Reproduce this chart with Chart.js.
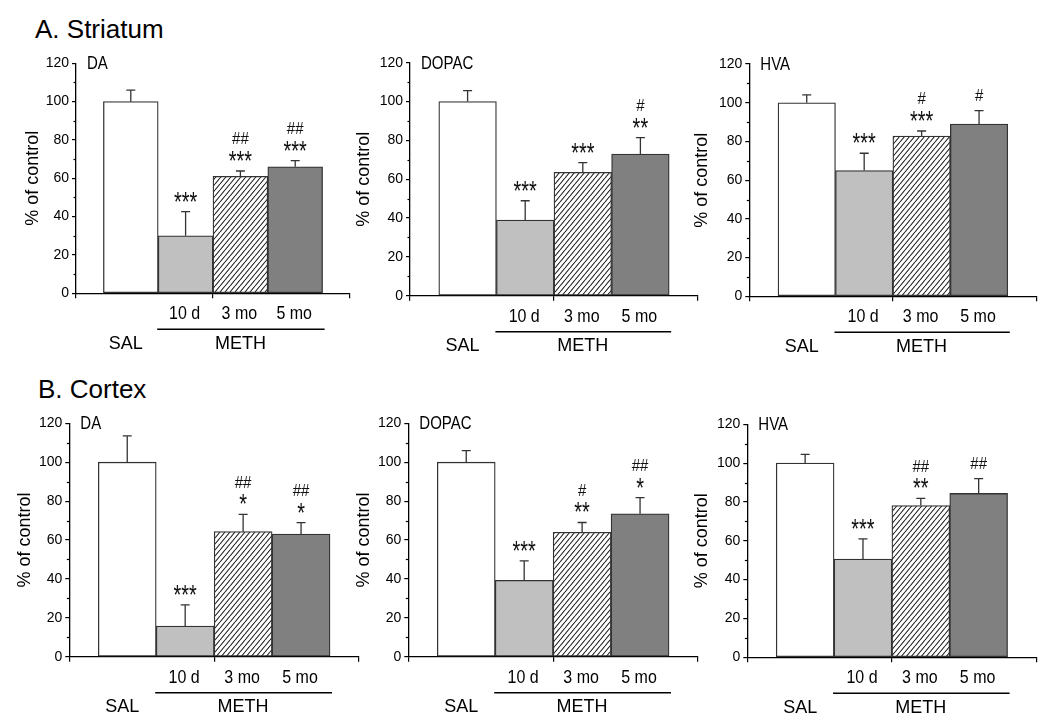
<!DOCTYPE html>
<html><head><meta charset="utf-8">
<script src="https://cdn.jsdelivr.net/npm/chart.js@4.4.0/dist/chart.umd.min.js"></script>
<style>
body{margin:0;background:#fff;width:1050px;height:725px;position:relative;overflow:hidden;font-family:'Liberation Sans',Arial,Helvetica,sans-serif;}
canvas{position:absolute;}
.rowtitle{position:absolute;font-size:26px;color:#000;line-height:26px;white-space:nowrap;}
</style></head><body>
<div class="rowtitle" style="left:35px;top:16px">A. Striatum</div>
<div class="rowtitle" style="left:38px;top:376px">B. Cortex</div>
<script>
// ---------- data ----------
const groupLabels = ['SAL', '10 d', '3 mo', '5 mo'];
const methLabel = 'METH';
const yTickValues = [0, 20, 40, 60, 80, 100, 120];

const striatumDA = [100, 30, 61, 66];
const striatumDA_sem = [6, 12.6, 2.8, 3.2];
const striatumDA_sig = [[], ['***'], ['***', '##'], ['***', '##']];

const striatumDOPAC = [100, 39, 63.5, 73];
const striatumDOPAC_sem = [5.6, 9.9, 5, 8.4];
const striatumDOPAC_sig = [[], ['***'], ['***'], ['**', '#']];

const striatumHVA = [100, 65, 82.8, 89];
const striatumHVA_sem = [4, 8.9, 2.6, 6.9];
const striatumHVA_sig = [[], ['***'], ['***', '#'], ['#']];

const cortexDA = [100, 15.8, 64.3, 63.1];
const cortexDA_sem = [13.5, 10.8, 8.9, 5.8];
const cortexDA_sig = [[], ['***'], ['*', '##'], ['*', '##']];

const cortexDOPAC = [100, 39.3, 64, 73.5];
const cortexDOPAC_sem = [6, 10, 5, 8.3];
const cortexDOPAC_sig = [[], ['***'], ['**', '#'], ['*', '##']];

const cortexHVA = [100, 50.6, 78.2, 84.4];
const cortexHVA_sem = [4.5, 10.4, 3.6, 7.6];
const cortexHVA_sig = [[], ['***'], ['**', '##'], ['##']];

// ---------- panels (data refs) ----------
const panels = [
  {name: 'DA',    values: striatumDA,    sem: striatumDA_sem,    sig: striatumDA_sig},
  {name: 'DOPAC', values: striatumDOPAC, sem: striatumDOPAC_sem, sig: striatumDOPAC_sig},
  {name: 'HVA',   values: striatumHVA,   sem: striatumHVA_sem,   sig: striatumHVA_sig},
  {name: 'DA',    values: cortexDA,      sem: cortexDA_sem,      sig: cortexDA_sig},
  {name: 'DOPAC', values: cortexDOPAC,   sem: cortexDOPAC_sem,   sig: cortexDOPAC_sig},
  {name: 'HVA',   values: cortexHVA,     sem: cortexHVA_sem,     sig: cortexHVA_sig}
];

// ---------- layout (page pixels) ----------
const layoutBoxes = [
  {canvas: [0, 40, 362, 320],   area: [76, 63.3, 350, 293.3],      tOff: 42.7},
  {canvas: [345, 40, 360, 320], area: [410, 62.7, 698, 295.7],     tOff: 46},
  {canvas: [680, 40, 370, 320], area: [749.3, 64, 1036.5, 296.3],  tOff: 46.8},
  {canvas: [0, 400, 362, 320],  area: [69.3, 423.3, 359, 656.7],   tOff: 44.3},
  {canvas: [345, 400, 360, 320],area: [408.3, 423.3, 698, 656.7],  tOff: 44.3},
  {canvas: [680, 400, 370, 320],area: [747.3, 424.3, 1036.5, 657.3], tOff: 44.8}
];

const FONT = "'Liberation Sans', Arial, Helvetica, sans-serif";
Chart.defaults.font.family = FONT;
Chart.defaults.color = '#000';

function hatchPattern() {
  const w = 5, h = 6;
  const c = document.createElement('canvas');
  c.width = w; c.height = h;
  const g = c.getContext('2d');
  g.fillStyle = '#fff'; g.fillRect(0, 0, w, h);
  g.strokeStyle = '#1a1a1a'; g.lineWidth = 1.05;
  g.beginPath();
  g.moveTo(0, h); g.lineTo(w, 0);
  g.moveTo(-w, h); g.lineTo(0, 0);
  g.moveTo(w, h); g.lineTo(2 * w, 0);
  g.stroke();
  return g.createPattern(c, 'repeat');
}

function stretchedText(ctx, s, x, y, sy) {
  ctx.save();
  ctx.translate(x, y);
  ctx.scale(1, sy);
  ctx.fillText(s, 0, 0);
  ctx.restore();
}

const annotPlugin = {
  id: 'annot',
  afterDatasetsDraw(chart, args, opts) {
    const p = opts.panel;
    const ctx = chart.ctx;
    const xs = chart.scales.x, ys = chart.scales.y;
    const area = chart.chartArea;
    const meta = chart.getDatasetMeta(0);
    ctx.save();
    // minor y ticks
    ctx.strokeStyle = '#000'; ctx.lineWidth = 1.2;
    for (let k = 0; k < yTickValues.length - 1; k++) {
      const v = (yTickValues[k] + yTickValues[k + 1]) / 2;
      const y = Math.round(ys.getPixelForValue(v)) + 0.5;
      ctx.beginPath(); ctx.moveTo(area.left - 2.5, y); ctx.lineTo(area.left, y); ctx.stroke();
    }
    // error bars
    ctx.strokeStyle = '#333'; ctx.lineWidth = 1.3;
    p.values.forEach((v, i) => {
      const bar = meta.data[i];
      const x = bar.x;
      const yb = ys.getPixelForValue(v);
      const yt = ys.getPixelForValue(v + p.sem[i]);
      ctx.beginPath();
      ctx.moveTo(x, yb); ctx.lineTo(x, yt);
      ctx.moveTo(x - 4.5, yt); ctx.lineTo(x + 4.5, yt);
      ctx.stroke();
      // significance marks, stacked upward
      let yc = yt - 14.5;
      ctx.fillStyle = '#111'; ctx.textAlign = 'center'; ctx.textBaseline = 'middle';
      p.sig[i].forEach(s => {
        if (s.indexOf('*') >= 0) {
          ctx.font = '20px ' + FONT;
          stretchedText(ctx, s, x, yc + 6, 1.35);
        } else {
          ctx.font = '15px ' + FONT;
          stretchedText(ctx, s, x, yc, 1.05);
        }
        yc -= 16.5;
      });
    });
    // panel name
    ctx.fillStyle = '#000'; ctx.textAlign = 'left'; ctx.textBaseline = 'middle';
    ctx.font = '15px ' + FONT;
    stretchedText(ctx, p.name, area.left + 11, area.top + 1, 1.25);
    // category labels
    ctx.textAlign = 'center';
    ctx.font = '16px ' + FONT;
    for (let i = 1; i < groupLabels.length; i++) {
      stretchedText(ctx, groupLabels[i], xs.getPixelForValue(i) - 1, area.bottom + 21, 1.1);
    }
    ctx.font = '18px ' + FONT;
    stretchedText(ctx, groupLabels[0], xs.getPixelForValue(0) - 5, area.bottom + 50, 1.05);
    stretchedText(ctx, methLabel, xs.getPixelForValue(2), area.bottom + 50, 1.05);
    // METH bracket line
    const b1 = meta.data[1], b3 = meta.data[3];
    ctx.strokeStyle = '#000'; ctx.lineWidth = 1.6;
    ctx.beginPath();
    ctx.moveTo(b1.x - b1.width / 2 - 1, area.bottom + 36);
    ctx.lineTo(b3.x + b3.width / 2 + 2, area.bottom + 36);
    ctx.stroke();
    ctx.restore();
  }
};

const hatch = hatchPattern();
const XH = 60;

panels.forEach((p, idx) => {
  const L = layoutBoxes[idx];
  const [cl, ct, cw, ch] = L.canvas;
  const [al, at, ar, ab] = L.area;
  const yWidth = L.tOff + 4 + 18 * 1.2 / 2;
  const cv = document.createElement('canvas');
  cv.width = cw; cv.height = ch;
  cv.style.left = cl + 'px'; cv.style.top = ct + 'px';
  cv.style.width = cw + 'px'; cv.style.height = ch + 'px';
  document.body.appendChild(cv);
  new Chart(cv, {
    type: 'bar',
    data: {
      datasets: [{
        data: p.values.map((v, i) => ({x: i, y: v})),
        backgroundColor: ['#ffffff', '#c0c0c0', hatch, '#808080'],
        borderColor: '#333',
        borderWidth: 1.3,
        borderSkipped: false,
        barPercentage: 1,
        categoryPercentage: 1
      }]
    },
    options: {
      responsive: false,
      animation: false,
      events: [],
      layout: {padding: {left: al - cl - yWidth, top: at - ct, right: cl + cw - ar, bottom: ct + ch - ab - XH}},
      plugins: {legend: {display: false}, tooltip: {enabled: false}, annot: {panel: p}},
      scales: {
        x: {
          type: 'linear', min: -1, max: 4, offset: false,
          ticks: {display: false, stepSize: 2.5},
          grid: {display: true, offset: false, drawOnChartArea: false, drawTicks: true, tickLength: 5, color: '#000', lineWidth: 1.2},
          border: {display: true, color: '#000', width: 1.3},
          afterFit(s) { s.height = XH; }
        },
        y: {
          min: 0, max: 120,
          afterBuildTicks(s) { s.ticks = yTickValues.map(v => ({value: v})); },
          ticks: {color: '#000', font: {size: 14}, padding: 3},
          grid: {drawOnChartArea: false, tickLength: 4, color: '#000', lineWidth: 1.2},
          border: {display: true, color: '#000', width: 1.3},
          title: {display: true, text: '% of control', font: {size: 18}, color: '#000', padding: {top: 4, bottom: 4}},
          afterFit(s) { s.width = yWidth; }
        }
      }
    },
    plugins: [annotPlugin]
  });
});
</script>
</body></html>
